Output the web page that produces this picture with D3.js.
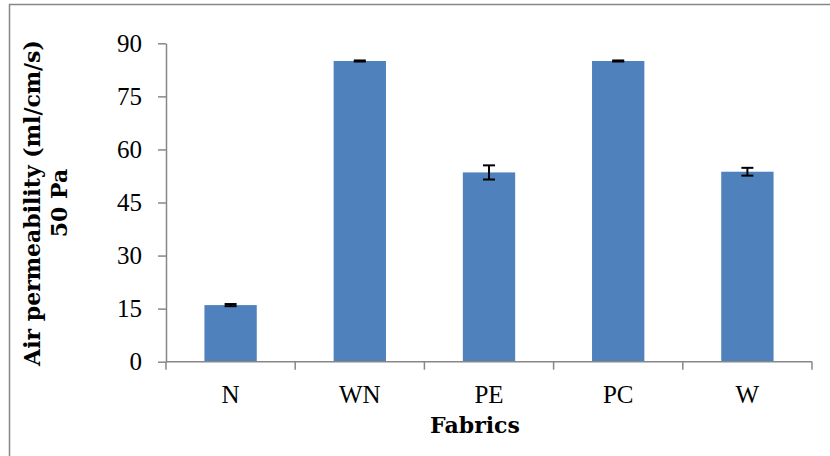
<!DOCTYPE html>
<html><head><meta charset="utf-8">
<script src="https://cdn.jsdelivr.net/npm/d3@7"></script>
<style>body{margin:0;background:#fff}svg{display:block}</style>
</head><body>
<script>
const categories = ["N","WN","PE","PC","W"];
const values = [16.0, 85.0, 53.5, 85.0, 53.7];
const errors = [0.3, 0.15, 2.0, 0.15, 1.1];
const yTicks = [0,15,30,45,60,75,90];

const W = 830, H = 456;
const svg = d3.select("body").append("svg").attr("width", W).attr("height", H);
const font = "'Liberation Serif', 'Times New Roman', serif";
const boldFont = "'DejaVu Serif', serif";

// chart border
svg.append("rect").attr("x", 9.5).attr("y", 4.5).attr("width", 900).attr("height", 600)
  .attr("fill", "none").attr("stroke", "#878787").attr("stroke-width", 1.5);

const x = d3.scaleBand().domain(categories).range([166, 812]).paddingInner(0.595).paddingOuter(0.2975);
const y = d3.scaleLinear().domain([0, 90]).range([361.7, 43.3]);

// bars
svg.selectAll("rect.bar").data(categories).join("rect").attr("class","bar")
  .attr("x", d => x(d)).attr("width", x.bandwidth())
  .attr("y", (d,i) => y(values[i])).attr("height", (d,i) => y(0) - y(values[i]))
  .attr("fill", "#4F81BD");

// error bars
const eb = svg.append("g").attr("stroke", "#000").attr("stroke-width", 2);
categories.forEach((c, i) => {
  const cx = x(c) + x.bandwidth()/2;
  const top = y(values[i] + errors[i]), bot = y(values[i] - errors[i]);
  eb.append("line").attr("x1", cx).attr("x2", cx).attr("y1", top).attr("y2", bot);
  eb.append("line").attr("x1", cx-6).attr("x2", cx+6).attr("y1", top).attr("y2", top);
  eb.append("line").attr("x1", cx-6).attr("x2", cx+6).attr("y1", bot).attr("y2", bot);
});

// y axis
const ya = svg.append("g").attr("transform", "translate(166,0)")
  .call(d3.axisLeft(y).tickValues(yTicks).tickSize(8).tickSizeOuter(0).tickPadding(16));
ya.select(".domain").attr("stroke", "#878787").attr("stroke-width", 1.5);
ya.selectAll(".tick line").attr("stroke", "#878787").attr("stroke-width", 1.5);
ya.selectAll("text").attr("font-family", font).attr("font-size", 25).attr("fill", "#000");

// x axis with boundary ticks
const xa = svg.append("g").attr("transform", "translate(0,361.7)");
xa.append("line").attr("x1", 166).attr("x2", 812).attr("stroke", "#878787").attr("stroke-width", 1.5);
const bounds = categories.map(c => x(c) - x.step()*x.paddingInner()/2 ).concat([812]);
bounds[0] = 166;
xa.selectAll("line.tk").data(bounds).join("line").attr("class","tk")
  .attr("x1", d => d).attr("x2", d => d).attr("y1", 0).attr("y2", 8)
  .attr("stroke", "#878787").attr("stroke-width", 1.5);
xa.selectAll("text").data(categories).join("text")
  .attr("x", d => x(d) + x.bandwidth()/2).attr("y", 41)
  .attr("text-anchor", "middle").attr("font-family", font).attr("font-size", 25).attr("fill","#000")
  .text(d => d);

// axis titles
svg.append("text").attr("x", 475).attr("y", 433).attr("text-anchor","middle")
  .attr("font-family", boldFont).attr("font-size", 22).attr("font-weight","bold").text("Fabrics");
const yt = svg.append("text").attr("transform", "translate(0,203) rotate(-90)")
  .attr("text-anchor","middle").attr("font-family", boldFont).attr("font-size", 22).attr("font-weight","bold");
yt.append("tspan").attr("x", 0).attr("y", 40).text("Air permeability (ml/cm/s)");
yt.append("tspan").attr("x", 0).attr("y", 67).text("50 Pa");
</script>
</body></html>
